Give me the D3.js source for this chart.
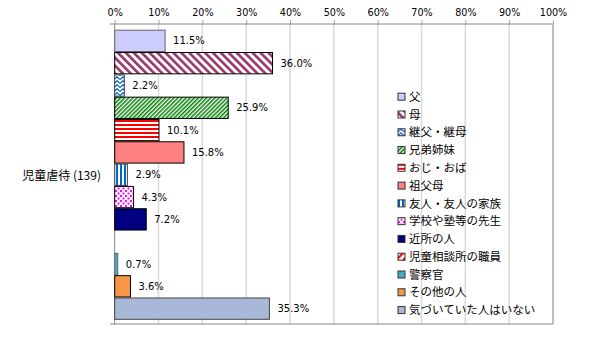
<!DOCTYPE html>
<html><head><meta charset="utf-8">
<script src="https://cdn.jsdelivr.net/npm/d3@7/dist/d3.min.js"></script>
<style>body{margin:0;background:#fff}svg{display:block}</style>
</head><body>
<div id="chart"></div>
<script>
const category = "児童虐待 (139)";
const seriesNames = ["父","母","継父・継母","兄弟姉妹","おじ・おば","祖父母","友人・友人の家族","学校や塾等の先生","近所の人","児童相談所の職員","警察官","その他の人","気づいていた人はいない"];
const seriesValues = [11.5, 36.0, 2.2, 25.9, 10.1, 15.8, 2.9, 4.3, 7.2, 0, 0.7, 3.6, 35.3];
const tickValues = [0,10,20,30,40,50,60,70,80,90,100];

// styles (kept separate from data)
const fills = ["#CCCCFF","url(#pMother)","url(#pStep)","url(#pSib)","url(#pUncle)","#FF8080","url(#pFriend)","url(#pTeacher)","#000080","url(#pCenter)","#4BACC6","#F79646","#A9B8D8"];
const strokes = ["#666","#000","#444","#000","#000","#000","#444","#000","#000","#000","#666","#000","#444"];

const W = 591, H = 337;
const svg = d3.select("#chart").append("svg").attr("width", W).attr("height", H);
const defs = svg.append("defs");

function stripe(id, color, period, width, angle){
  const p = defs.append("pattern").attr("id", id).attr("patternUnits","userSpaceOnUse")
    .attr("width", period).attr("height", period).attr("patternTransform", `rotate(${angle})`);
  p.append("rect").attr("width", period).attr("height", period).attr("fill","#fff");
  p.append("rect").attr("width", width).attr("height", period).attr("fill", color);
}
stripe("pMother", "#993366", 5.6, 2.6, -45);
stripe("pSib", "#008000", 2.9, 1.5, 45);
stripe("pCenter", "#FF0000", 5, 2.2, 45);
stripe("pFriend", "#0066CC", 4, 2, 0);
stripe("pUncle", "#FF0000", 4, 2, 90);
{
  const p = defs.append("pattern").attr("id","pStep").attr("patternUnits","userSpaceOnUse").attr("width",6).attr("height",4);
  p.append("rect").attr("width",6).attr("height",4).attr("fill","#fff");
  p.append("path").attr("d","M0,3.5 L3,0.8 L6,3.5").attr("fill","none").attr("stroke","#0066CC").attr("stroke-width",1.3);
}
{
  const p = defs.append("pattern").attr("id","pTeacher").attr("patternUnits","userSpaceOnUse").attr("width",5).attr("height",5);
  p.append("rect").attr("width",5).attr("height",5).attr("fill","#fff");
  p.append("rect").attr("x",0).attr("y",0).attr("width",2).attr("height",2).attr("fill","#FF00FF");
  p.append("rect").attr("x",2.5).attr("y",2.5).attr("width",2).attr("height",2).attr("fill","#FF00FF");
}

const x = d3.scaleLinear().domain([0,100]).range([114.7, 553]);
const y = d3.scaleBand().domain(seriesNames).range([29.7, 319.8]).padding(0);
const plotTop = 24, plotBottom = 324;

// gridlines
svg.append("g").selectAll("line").data(tickValues.slice(1, -1)).join("line")
  .attr("x1", d => x(d)).attr("x2", d => x(d)).attr("y1", plotTop).attr("y2", plotBottom)
  .attr("stroke", "#d9d9d9").attr("stroke-width", 1.5);

// right & bottom border
svg.append("line").attr("x1", x(100)).attr("x2", x(100)).attr("y1", plotTop).attr("y2", plotBottom).attr("stroke","#808080");
svg.append("line").attr("x1", 110).attr("x2", x(100)).attr("y1", plotBottom).attr("y2", plotBottom).attr("stroke","#868686");

// top axis
const ax = svg.append("g").attr("transform", `translate(0,${plotTop})`)
  .call(d3.axisTop(x).tickValues(tickValues).tickFormat(d => d + "%").tickSize(4).tickSizeOuter(0));
ax.select(".domain").remove();
ax.append("line").attr("x1", 110).attr("x2", x(100)).attr("stroke", "#868686");
ax.selectAll(".tick line").attr("stroke", "#a6a6a6");
ax.selectAll(".tick text").attr("font-family","DejaVu Sans, Verdana, sans-serif").attr("font-size", 9.6)
  .attr("fill","#000").attr("y", -8.5);

// left axis
svg.append("line").attr("x1", x(0)).attr("x2", x(0)).attr("y1", plotTop).attr("y2", plotBottom).attr("stroke","#868686");

// bars
svg.append("g").selectAll("rect").data(seriesNames.map((n,i)=>({n, v: seriesValues[i], i})).filter(d => d.v > 0)).join("rect")
  .attr("x", x(0)).attr("y", d => y(d.n) + 0.5).attr("width", d => x(d.v) - x(0)).attr("height", y.bandwidth() - 1)
  .attr("fill", d => fills[d.i]).attr("stroke", d => strokes[d.i]).attr("stroke-width", 1);

// labels
svg.append("g").selectAll("text").data(seriesNames.map((n,i)=>({n, v: seriesValues[i]})).filter(d => d.v > 0)).join("text")
  .attr("x", d => x(d.v) + 8).attr("y", d => y(d.n) + y.bandwidth()/2).attr("dy","0.35em")
  .attr("font-family","DejaVu Sans, Verdana, sans-serif").attr("font-size", 10).attr("fill","#000")
  .text(d => d.v.toFixed(1) + "%");

// category label
svg.append("text").attr("x", 101).attr("y", (plotTop+plotBottom)/2 + 2).attr("dy","0.35em").attr("text-anchor","end")
  .attr("font-family","'Noto Sans CJK JP', sans-serif").attr("font-size", 12).attr("fill","#000").text(category);

// legend
const lg = svg.append("g").selectAll("g").data(seriesNames).join("g")
  .attr("transform", (d,i) => `translate(398,${96.7 + i*17.78})`);
lg.append("rect").attr("x",0).attr("y",-3.5).attr("width",7).attr("height",7)
  .attr("fill", (d,i) => fills[i]).attr("stroke", "#333").attr("stroke-width", 1);
lg.append("text").attr("x", 11).attr("dy","0.36em")
  .attr("font-family","'Noto Sans CJK JP', sans-serif").attr("font-size", 11.5).attr("fill","#000").text(d => d);
</script>
</body></html>
